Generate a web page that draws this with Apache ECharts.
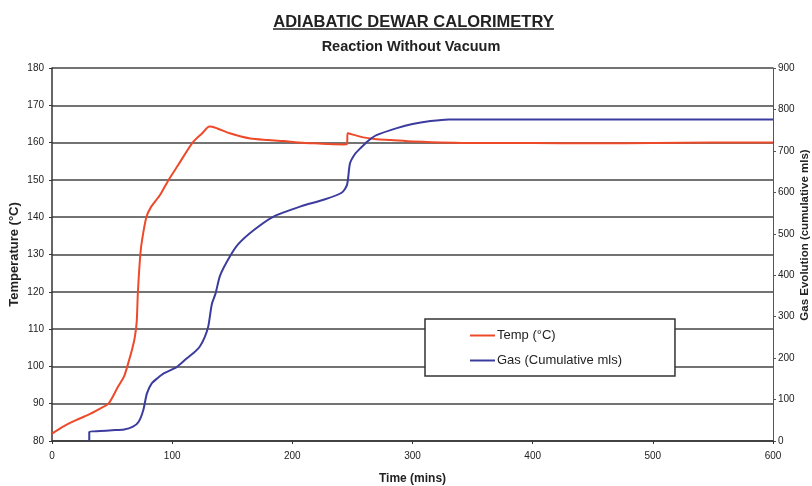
<!DOCTYPE html>
<html>
<head>
<meta charset="utf-8">
<script src="https://cdn.jsdelivr.net/npm/echarts@6/dist/echarts.min.js"></script>
<style>
  html, body { margin: 0; padding: 0; background: #fff; }
  #main { width: 812px; height: 486px; }
</style>
</head>
<body>
<div id="main"></div>
<script>
// temperature trace (mins, degC)
var tempTime = [0, 10, 20, 30, 40, 47, 55, 60, 64, 67, 69, 70.5, 71.5, 73.5, 75, 78.5, 82, 90, 97, 105, 117,
	125, 131, 136, 148, 165, 180, 193, 205, 218, 230, 243, 245.5, 246, 252, 259, 270, 282, 300,
	350, 400, 450, 500, 550, 600];
var tempVals = [82, 84, 85.6, 87, 88.7, 90, 94.6, 97.3, 101.5, 105, 108, 112, 120, 130, 134, 140, 142.5, 146, 150, 154, 160,
	162.5, 164.3, 164, 162.5, 161.1, 160.7, 160.4, 160, 159.8, 159.6, 159.5, 159.6, 162.5, 162, 161.4, 160.9, 160.7, 160.3,
	159.9, 159.9, 159.8, 159.9, 160, 160];

// gas evolution trace (mins, cumulative mls)
var gasTime = [31, 31, 40, 50, 60, 67, 72, 76, 79, 83, 88, 93, 104, 112, 118, 123, 127, 130, 133, 136,
	140, 148, 155, 168, 184, 207, 226, 241, 245.5, 248, 252, 256.5, 263, 270, 287, 300, 315, 330,
	400, 500, 600];
var gasVals = [0, 22, 24, 26, 28, 34, 46, 75, 115, 139, 152, 163, 179, 199, 213, 228, 250, 276, 330, 355,
	400, 445, 475, 509, 541, 566, 582, 599, 618, 670, 692, 706, 724, 738, 755, 765, 772, 776,
	776, 776, 776];

var seriesNames = ['Temp (°C)', 'Gas (Cumulative mls)'];

function pairs(xs, ys) {
	var out = [];
	for (var i = 0; i < xs.length; i++) {
		out.push([xs[i], ys[i]]);
	}
	return out;
}

var font = 'Liberation Sans, Arial, sans-serif';
var chart = echarts.init(document.getElementById('main'));

var option = {
	backgroundColor: '#fff',
	animation: false,
	textStyle: { fontFamily: font },
	title: [{
		text: 'ADIABATIC DEWAR CALORIMETRY',
		left: 408.5,
		textAlign: 'center',
		top: 9,
		textStyle: { fontSize: 16.5, fontWeight: 'bold', color: '#222', fontFamily: font }
	}, {
		text: 'Reaction Without Vacuum',
		left: 406,
		textAlign: 'center',
		top: 34,
		textStyle: { fontSize: 14.5, fontWeight: 'bold', color: '#222', fontFamily: font }
	}],
	graphic: [{
		type: 'line',
		shape: { x1: 273, y1: 29, x2: 554, y2: 29 },
		style: { stroke: '#222', lineWidth: 1.5 }
	}, {
		// right axis title, placed by hand like the original
		type: 'text',
		x: 805,
		y: 235,
		rotation: Math.PI / 2,
		style: {
			text: 'Gas Evolution (cumulative mls)',
			font: 'bold 11.5px ' + font,
			fill: '#222',
			align: 'center',
			verticalAlign: 'middle'
		}
	}],
	legend: {
		data: seriesNames,
		orient: 'vertical',
		left: 425,
		top: 319,
		padding: [10, 53, 9, 45],
		itemGap: 12,
		itemWidth: 25,
		itemHeight: 2,
		icon: 'rect',
		borderColor: '#333',
		borderWidth: 1.5,
		backgroundColor: '#fff',
		textStyle: { fontSize: 13, color: '#222', fontFamily: font, padding: [0, 0, 0, -3] }
	},
	grid: { left: 52, right: 39, top: 68, bottom: 45, outerBoundsMode: 'none' },
	xAxis: {
		type: 'value',
		min: 0,
		max: 600,
		interval: 100,
		name: 'Time (mins)',
		nameLocation: 'middle',
		nameGap: 32,
		nameTextStyle: { fontSize: 12, fontWeight: 'bold', color: '#222' },
		axisLine: { lineStyle: { color: '#333', width: 1.5 } },
		axisTick: { length: 3, lineStyle: { color: '#333' } },
		axisLabel: { fontSize: 10, color: '#222', margin: 10 },
		splitLine: { show: false }
	},
	yAxis: [{
		type: 'value',
		min: 80,
		max: 180,
		interval: 10,
		name: 'Temperature (°C)',
		nameLocation: 'middle',
		nameGap: 31,
		nameMoveOverlap: false,
		nameTextStyle: { fontSize: 13, fontWeight: 'bold', color: '#222' },
		axisLine: { show: true, lineStyle: { color: '#333', width: 1.5 } },
		axisTick: { show: true, length: 3, lineStyle: { color: '#333' } },
		axisLabel: { fontSize: 10, color: '#222', margin: 8 },
		splitLine: { show: true, lineStyle: { color: '#444', width: 1.5 } }
	}, {
		type: 'value',
		min: 0,
		max: 900,
		interval: 100,
		position: 'right',
		axisLine: { show: true, lineStyle: { color: '#555', width: 1 } },
		axisTick: { show: true, length: 3, lineStyle: { color: '#555' } },
		axisLabel: { fontSize: 10, color: '#222', margin: 5 },
		splitLine: { show: false }
	}],
	series: [{
		name: seriesNames[0],
		type: 'line',
		yAxisIndex: 0,
		data: pairs(tempTime, tempVals),
		showSymbol: false,
		smooth: 0.25,
		lineStyle: { color: '#ee4a2a', width: 2 },
		itemStyle: { color: '#ee4a2a' },
		z: 3
	}, {
		name: seriesNames[1],
		type: 'line',
		yAxisIndex: 1,
		data: pairs(gasTime, gasVals),
		showSymbol: false,
		smooth: 0.25,
		lineStyle: { color: '#3c3c9e', width: 2 },
		itemStyle: { color: '#3c3c9e' },
		z: 4
	}]
};
chart.setOption(option);
</script>
</body>
</html>
